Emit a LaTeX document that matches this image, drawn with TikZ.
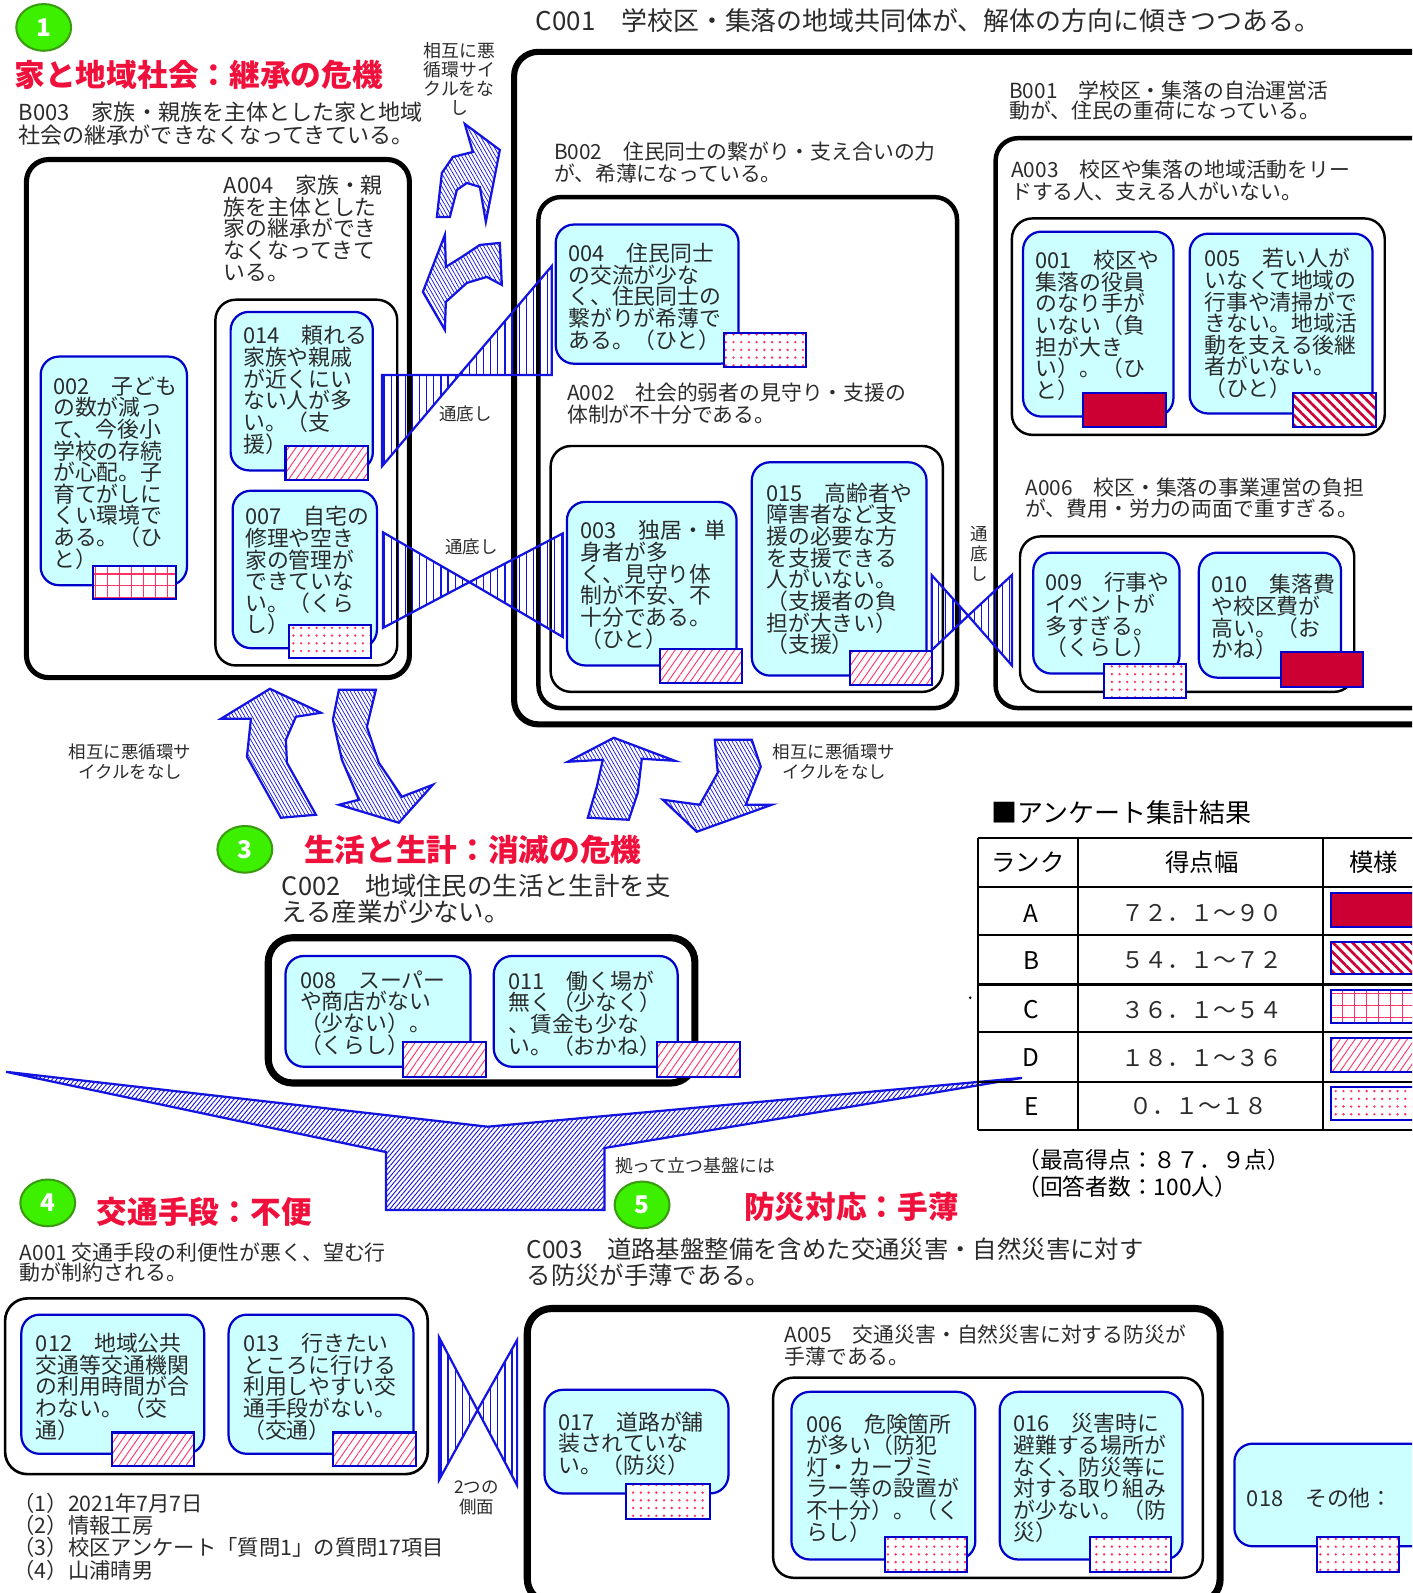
\documentclass[tikz,border=0pt]{standalone}
\usepackage{fontspec}
\setmainfont{Noto Sans CJK JP}
\usetikzlibrary{patterns.meta,shapes.geometric}
\definecolor{crim}{HTML}{CC0033}
\definecolor{bblue}{HTML}{0000CC}
\definecolor{cyanfill}{HTML}{CCFFFF}
\definecolor{pred}{HTML}{FF3366}
\definecolor{tred}{HTML}{F0103C}
\definecolor{gfill}{HTML}{3CF000}
\definecolor{gdraw}{HTML}{3A9A10}
\definecolor{txt}{HTML}{2B2B2B}
\definecolor{hblue}{HTML}{1414E0}
\tikzset{
  ibox/.style={draw=bblue, fill=cyanfill, line width=1.1pt, rounded corners=9pt},
  cbox/.style={draw=black, line width=1.2pt, rounded corners=10pt},
  kbox/.style={draw=black, line width=2.2pt, rounded corners=11pt},
  bt/.style={anchor=north west, inner sep=0pt, align=left, text=txt, font=\fontsize{10.75}{10.65}\selectfont},
  ht/.style={anchor=north west, inner sep=0pt, align=left, text=txt, font=\fontsize{10.25}{10.8}\selectfont},
  lab/.style={inner sep=0pt, align=center, text=txt, font=\fontsize{8.6}{9.8}\selectfont},
  ttl/.style={anchor=west, inner sep=0pt, text=tred, font=\fontsize{15.1}{16}\selectfont\bfseries},
  gc/.style={ellipse, draw=gdraw, fill=gfill, line width=1pt, minimum width=27pt, minimum height=23pt, inner sep=0pt, text=white, font=\fontsize{12}{12}\selectfont\bfseries},
  swbase/.style={draw=bblue, line width=1pt, preaction={fill=white}},
  swA/.style={draw=bblue, line width=1pt, fill=crim},
  swB/.style={swbase, pattern={Lines[angle=-45,distance=3.4pt,line width=1.3pt]}, pattern color=crim},
  swC/.style={swbase, pattern={Hatch[angle=0,distance=5.9pt,line width=0.5pt]}, pattern color=pred},
  swD/.style={swbase, pattern={Lines[angle=55,distance=3pt,line width=0.45pt]}, pattern color=pred},
  swE/.style={swbase, pattern={Dots[distance=3.8pt,radius=0.65pt]}, pattern color=pred},
  bow/.style={draw=hblue, line width=1.1pt, pattern={Lines[angle=90,distance=3.5pt,line width=0.6pt]}, pattern color=hblue},
  barrow/.style={draw=hblue, line width=1.1pt, preaction={fill=white}, pattern={Lines[angle=-60,distance=1.6pt,line width=0.35pt]}, pattern color=hblue},
  funnel/.style={draw=hblue, line width=1.1pt, preaction={fill=white}, pattern={Lines[angle=50,distance=1.7pt,line width=0.45pt]}, pattern color=hblue},
  tline/.style={draw=black, line width=1.1pt},
  tc/.style={inner sep=0pt, text=black, font=\fontsize{12}{12}\selectfont},
  tr/.style={inner sep=0pt, text=txt, font=\fontsize{11.3}{12}\selectfont},
}
\newcommand\itembox[5]{\draw[ibox] #2 rectangle #3; \node[bt] (#1) at #4 {#5};}
\begin{document}
\begin{tikzpicture}[x=0.5pt,y=-0.5pt]
\useasboundingbox (0,0) rectangle (1390,1568);
\clip (0,0) rectangle (1390,1568);

% ---------- section 1 ----------
\node[gc] (g1) at (43,27) {1};
\node[ttl] (t1) at (14,74) {家と地域社会：継承の危機};
\node[anchor=north west, inner sep=0pt, align=left, text=txt, font=\fontsize{10.85}{10}\selectfont] (b003) at (18,100) {B003　家族・親族を主体とした家と地域\\社会の継承ができなくなってきている。};
\draw[kbox, line width=2.5pt] (26,157) rectangle (403,667);
\node[bt] (a004) at (220,172) {A004　家族・親\\族を主体とした\\家の継承ができ\\なくなってきて\\いる。};
\draw[cbox] (212,295) rectangle (391,655);
\itembox{i002}{(40,351)}{(184,576)}{(52,370)}{002　子ども\\の数が減っ\\て、今後小\\学校の存続\\が心配。子\\育てがしに\\くい環境で\\ある。（ひ\\と）}
\draw[swC] (92,557) rectangle (173,590);
\itembox{i014}{(227,307)}{(367,463)}{(239,320)}{014　頼れる\\家族や親戚\\が近くにい\\ない人が多\\い。（支\\援）}
\draw[swD] (281,439) rectangle (362,472);
\itembox{i007}{(229,483)}{(371,638)}{(241,498)}{007　自宅の\\修理や空き\\家の管理が\\できていな\\い。（くら\\し）}
\draw[swE] (284,615) rectangle (365,648);

% ---------- C001 block ----------
\node[anchor=north west, inner sep=0pt, text=txt, font=\fontsize{12.75}{13}\selectfont] (c001) at (527,8) {C001　学校区・集落の地域共同体が、解体の方向に傾きつつある。};
\draw[draw=black, line width=3pt, rounded corners=12pt] (506,51) rectangle (1440,713);
\node[ht] (b002) at (545,139) {B002　住民同士の繋がり・支え合いの力\\が、希薄になっている。};
\draw[kbox] (530,194) rectangle (942,697);
\itembox{i004}{(547,221)}{(727,358)}{(559,239)}{004　住民同士\\の交流が少な\\く、住民同士の\\繋がりが希薄で\\ある。（ひと）}
\draw[swE] (713,328) rectangle (793,361);
\node[ht] (a002) at (558,377) {A002　社会的弱者の見守り・支援の\\体制が不十分である。};
\draw[cbox] (542,439) rectangle (928,681);
\itembox{i003}{(558,494)}{(725,655)}{(571,512)}{003　独居・単\\身者が多\\く、見守り体\\制が不安、不\\十分である。\\（ひと）}
\draw[swD] (650,639) rectangle (730,672);
\itembox{i015}{(740,455)}{(912,665)}{(754,475)}{015　高齢者や\\障害者など支\\援の必要な方\\を支援できる\\人がいない。\\（支援者の負\\担が大きい）\\（支援）}
\draw[swD] (837,641) rectangle (917,674);

\node[ht, font=\fontsize{10.25}{10}\selectfont] (b001) at (993,79) {B001　学校区・集落の自治運営活\\動が、住民の重荷になっている。};
\draw[kbox] (980,136) rectangle (1440,697);
\node[ht] (a003) at (995,157) {A003　校区や集落の地域活動をリー\\ドする人、支える人がいない。};
\draw[cbox] (996,215) rectangle (1363,428);
\itembox{i001}{(1007,228)}{(1155,410)}{(1019,246)}{001　校区や\\集落の役員\\のなり手が\\いない（負\\担が大き\\い）。（ひ\\と）}
\draw[swA] (1066,387) rectangle (1148,420);
\itembox{i005}{(1171,230)}{(1351,407)}{(1185,244)}{005　若い人が\\いなくて地域の\\行事や清掃がで\\きない。地域活\\動を支える後継\\者がいない。\\（ひと）}
\draw[swB] (1273,387) rectangle (1354,420);
\node[ht, font=\fontsize{10.25}{10.5}\selectfont] (a006) at (1009,470) {A006　校区・集落の事業運営の負担\\が、費用・労力の両面で重すぎる。};
\draw[cbox] (1004,528) rectangle (1333,681);
\itembox{i009}{(1017,544)}{(1161,663)}{(1029,563)}{009　行事や\\イベントが\\多すぎる。\\（くらし）}
\draw[swE] (1087,654) rectangle (1167,687);
\itembox{i010}{(1180,544)}{(1320,667)}{(1192,565)}{010　集落費\\や校区費が\\高い。（お\\かね）}
\draw[swA] (1261,642) rectangle (1342,676);

% ---------- bowtie connectors ----------
\draw[bow] (376,369) -- (376,459) -- (452,369) -- cycle (452,369) -- (543,369) -- (543,262) -- cycle;
\node[lab] (l1) at (458,407) {通底し};
\draw[bow] (377,524) -- (377,618) -- (462,573) -- cycle (462,573) -- (554,627) -- (554,525) -- cycle;
\node[lab] (l2) at (464,538) {通底し};
\draw[bow] (917,566) -- (917,640) -- (953,606) -- cycle (953,606) -- (996,655) -- (996,566) -- cycle;
\node[lab, anchor=north] (l3) at (964,518) {通\\底\\し};

% ---------- curved block arrows ----------
\begin{scope}[scale=0.984]
\draw[barrow] (437,217) -- (442,173) -- (453,157) -- (473,152) -- (465,124) -- (500,150) -- (486,222) -- (480,187) -- (467,183) -- (457,190) -- (450,217) -- cycle;
\draw[barrow] (445,235) -- (423,292) -- (445,330) -- (446,302) -- (467,283) -- (487,277) -- (502,285) -- (500,243) -- (480,245) -- (462,257) -- (446,267) -- cycle;
\draw[barrow] (270,689) -- (321,713) -- (296,717) -- (286,740) -- (287,763) -- (316,815) -- (281,818) -- (247,757) -- (251,719) -- (221,719) -- cycle;
\draw[barrow] (339,690) -- (376,690) -- (367,727) -- (379,763) -- (402,797) -- (433,785) -- (399,823) -- (339,805) -- (359,800) -- (342,760) -- (333,720) -- cycle;
\draw[barrow] (614,738) -- (675,761) -- (642,759) -- (638,793) -- (629,820) -- (588,818) -- (597,787) -- (603,760) -- (568,762) -- cycle;
\draw[barrow] (715,740) -- (752,740) -- (761,767) -- (746,805) -- (772,805) -- (697,832) -- (663,800) -- (700,805) -- (718,773) -- cycle;
\end{scope}
\node[lab, anchor=north, font=\fontsize{8.8}{9.5}\selectfont] (l4) at (452,41) {相互に悪\\循環サイ\\クルをな\\し};
\node[lab] (l5) at (128,750) {相互に悪循環サ\\イクルをなし};
\node[lab] (l6) at (821,750) {相互に悪循環サ\\イクルをなし};

% ---------- section 3 ----------
\node[gc] (g3) at (241,836) {3};
\node[ttl] (t3) at (299,836) {生活と生計：消滅の危機};
\node[anchor=north west, inner sep=0pt, align=left, text=txt, font=\fontsize{12.5}{12.8}\selectfont] (c002) at (277,860) {C002　地域住民の生活と生計を支\\える産業が少ない。};
\draw[draw=black, line width=3.5pt, rounded corners=12pt] (264,923) rectangle (684,1066);
\itembox{i008}{(281,941)}{(463,1050)}{(295,955)}{008　スーパー\\や商店がない\\（少ない）。\\（くらし）}
\draw[swD] (397,1026) rectangle (478,1060);
\itembox{i011}{(486,941)}{(667,1050)}{(500,955)}{011　働く場が\\無く（少なく）\\、賃金も少な\\い。（おかね）}
\draw[swD] (647,1026) rectangle (728,1060);

% ---------- funnel ----------
\draw[funnel] (6,1055) -- (480,1109) -- (1006,1061) -- (595,1130) -- (595,1191) -- (380,1191) -- (380,1134) -- cycle;
\node[lab, anchor=west, font=\fontsize{8.8}{9.5}\selectfont] (l7) at (605,1147) {拠って立つ基盤には};

% ---------- section 4 ----------
\node[gc] (g4) at (47,1184) {4};
\node[ttl] (t4) at (95,1193) {交通手段：不便};
\node[ht, font=\fontsize{10.3}{10}\selectfont] (a001) at (19,1223) {A001 交通手段の利便性が悪く、望む行\\動が制約される。};
\draw[draw=black, line width=1.3pt, rounded corners=11pt] (5,1278) rectangle (421,1451);
\itembox{i012}{(21,1294)}{(201,1431)}{(35,1312)}{012　地域公共\\交通等交通機関\\の利用時間が合\\わない。（交\\通）}
\draw[swD] (110,1410) rectangle (191,1443);
\itembox{i013}{(225,1294)}{(407,1431)}{(239,1312)}{013　行きたい\\ところに行ける\\利用しやすい交\\通手段がない。\\（交通）}
\draw[swD] (328,1410) rectangle (409,1443);
\draw[bow] (432,1316) -- (432,1457) -- (470,1388) -- cycle (470,1388) -- (509,1462) -- (509,1319) -- cycle;
\node[lab] (l8) at (469,1474) {2つの\\側面};
\node[anchor=north west, inner sep=0pt, align=left, text=txt, font=\fontsize{10.5}{11}\selectfont] (notes) at (13,1469) {（1）2021年7月7日\\（2）情報工房\\（3）校区アンケート「質問1」の質問17項目\\（4）山浦晴男};

% ---------- section 5 ----------
\node[gc] (g5) at (632,1186) {5};
\node[ttl] (t5) at (732,1188) {防災対応：手薄};
\node[anchor=north west, inner sep=0pt, align=left, text=txt, font=\fontsize{12}{13}\selectfont] (c003) at (518,1218) {C003　道路基盤整備を含めた交通災害・自然災害に対す\\る防災が手薄である。};
\draw[draw=black, line width=3.5pt, rounded corners=12pt] (519,1288) rectangle (1201,1578);
\node[ht, font=\fontsize{10.25}{10.5}\selectfont] (a005) at (772,1304) {A005　交通災害・自然災害に対する防災が\\手薄である。};
\draw[cbox] (761,1356) rectangle (1184,1553);
\itembox{i017}{(536,1368)}{(717,1470)}{(549,1389)}{017　道路が舗\\装されていな\\い。（防災）}
\draw[swE] (616,1461) rectangle (699,1495);
\itembox{i006}{(779,1370)}{(960,1535)}{(793,1391)}{006　危険箇所\\が多い（防犯\\灯・カーブミ\\ラー等の設置が\\不十分）。（く\\らし）}
\draw[swE] (871,1513) rectangle (952,1547);
\itembox{i016}{(984,1370)}{(1164,1535)}{(997,1391)}{016　災害時に\\避難する場所が\\なく、防災等に\\対する取り組み\\が少ない。（防\\災）}
\draw[swE] (1073,1513) rectangle (1153,1547);
\itembox{i018}{(1215,1421)}{(1440,1522)}{(1227,1464)}{018　その他：}
\draw[swE] (1296,1513) rectangle (1377,1547);

% ---------- legend ----------
\node[anchor=west, inner sep=0pt, text=black, font=\fontsize{12.8}{13}\selectfont] (lt) at (976,800) {■アンケート集計結果};
\foreach \yy in {825,873,920,969,1016,1065,1112} {\draw[tline] (963,\yy) -- (1440,\yy);}
\foreach \xx in {963,1061,1302} {\draw[tline] (\xx,825) -- (\xx,1112);}
\node[tc] (h1) at (1012,849) {ランク};
\node[tc] (h2) at (1183,849) {得点幅};
\node[tc] (h3) at (1352,849) {模様};
\node[tc] (ra) at (1015,899) {A};
\node[tc] (rb) at (1015,945) {B};
\node[tc] (rc) at (1015,994) {C};
\node[tc] (rd) at (1015,1041) {D};
\node[tc] (re) at (1015,1089) {E};
\node[tr] (va) at (1183,899) {７２．１～９０};
\node[tr] (vb) at (1183,945) {５４．１～７２};
\node[tr] (vc) at (1183,994) {３６．１～５４};
\node[tr] (vd) at (1183,1041) {１８．１～３６};
\node[tr] (ve) at (1180,1089) {０．１～１８};
\draw[swA] (1310,879) rectangle (1440,912);
\draw[swB] (1310,927) rectangle (1440,959);
\draw[swC] (1310,974) rectangle (1440,1007);
\draw[swD] (1310,1022) rectangle (1440,1055);
\draw[swE] (1310,1070) rectangle (1440,1102);
\fill[black] (955,982) circle (0.7pt);
\node[anchor=north west, inner sep=0pt, align=left, text=black, font=\fontsize{11.2}{13}\selectfont] (ft) at (1001,1131) {（最高得点：８７．９点）\\（回答者数：100人）};
\end{tikzpicture}
\end{document}
